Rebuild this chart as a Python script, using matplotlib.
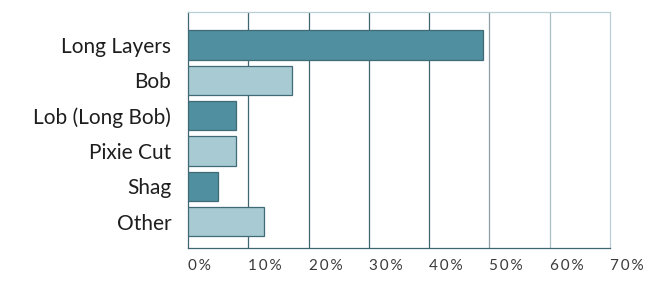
import matplotlib
matplotlib.use("Agg")
from matplotlib import pyplot as plt

categories = ["Long Layers", "Bob", "Lob (Long Bob)", "Pixie Cut", "Shag", "Other"]
shares = [49, 17.3, 8, 8, 5, 12.6]
tick_values = [0, 10, 20, 30, 40, 50, 60, 70]
tick_labels = ["0%", "10%", "20%", "30%", "40%", "50%", "60%", "70%"]

dark = "#4f8fa0"
light = "#a8cbd3"
edge = "#3f6a76"
grid_colors = ["#3f6670", "#3f6670", "#3f6670", "#3f6670", "#3f6670", "#8c9ea3", "#a9bfc6", "#b8cfd5"]

plt.rcParams["font.family"] = ["Lato", "DejaVu Sans"]

fig = plt.figure(figsize=(6.5, 2.84), dpi=100)
ax = fig.add_axes([0.2892, 0.1257, 0.6493, 0.832])

ypos = list(range(len(categories)))
colors = [dark if i % 2 == 0 else light for i in ypos]
ax.barh(ypos, shares, height=0.83, color=colors, edgecolor=edge, linewidth=0.9, zorder=3)

for v, c in zip(tick_values[1:-1], grid_colors[1:-1]):
    ax.axvline(v, color=c, linewidth=0.9, zorder=1)

ax.set_xlim(0, 70)
ax.set_ylim(5.75, -0.93)
ax.set_yticks(ypos)
ax.set_yticklabels(categories, fontsize=15, color="#1e1e1e")
ax.set_xticks(tick_values)
# spaced out like the original's wide lettering
spaced = ["\u2009".join(t) for t in tick_labels]
ax.set_xticklabels(spaced, fontsize=11, color="#3a3a3a")
ax.tick_params(axis="y", length=0, pad=12)
ax.tick_params(axis="x", length=0, pad=8)
for lbl in ax.get_xticklabels():
    lbl.set_horizontalalignment("left")

ax.spines["left"].set_color("#3f6670")
ax.spines["bottom"].set_color("#3f6670")
ax.spines["top"].set_color("#b8cfd5")
ax.spines["right"].set_color("#b8cfd5")
for s in ax.spines.values():
    s.set_linewidth(0.9)

fig.savefig("out.png", dpi=100)
